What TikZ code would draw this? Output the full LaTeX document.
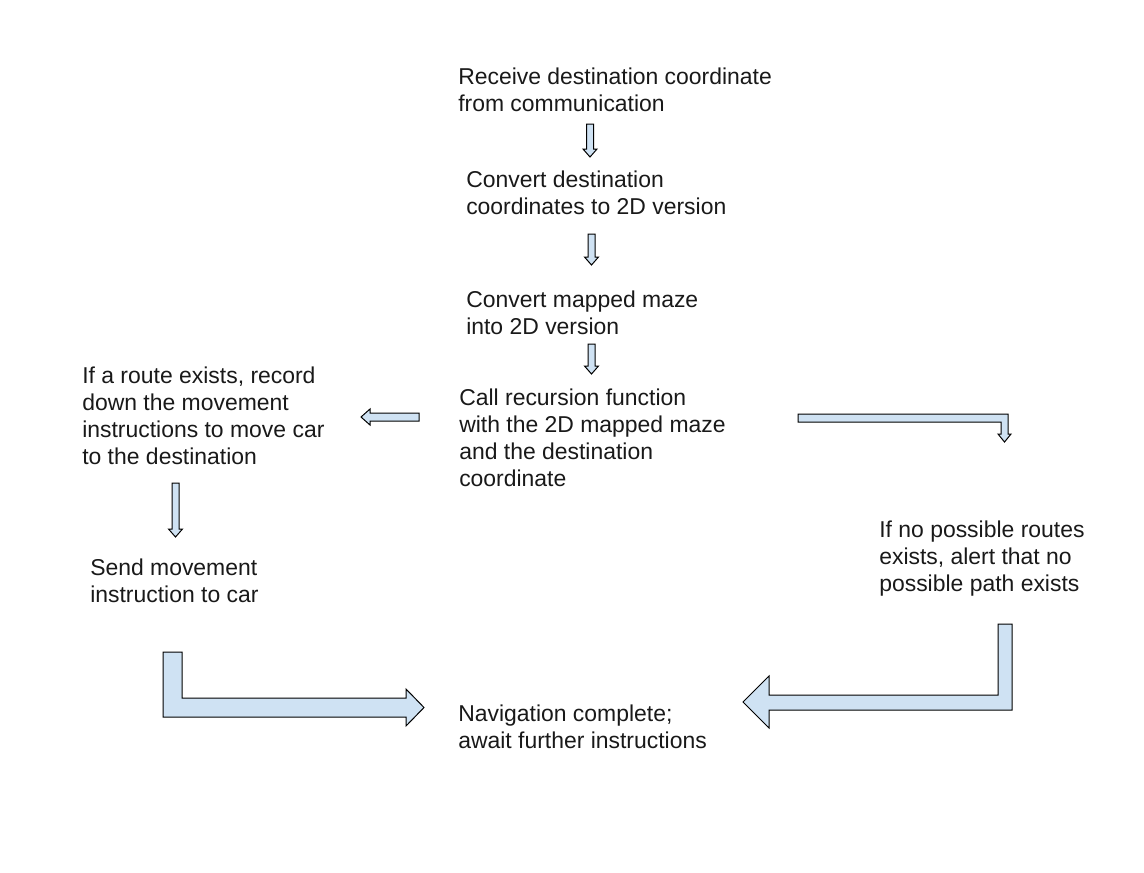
\documentclass[tikz,border=0pt]{standalone}
\usepackage{fontspec}
\setmainfont{Liberation Sans}
\usepackage{xcolor}
\usepackage{tikz}
\usetikzlibrary{positioning}
\definecolor{arrowfill}{RGB}{207,226,243}
\tikzstyle{flowtext}=[inner sep=0pt, anchor=north west, align=left, text=black!90,
        font=\fontsize{17.2pt}{20.25pt}\selectfont]
\tikzstyle{blockarrow}=[draw=black, fill=arrowfill, line width=0.75pt, line join=miter]
% small straight block arrow pointing down: x, top, tip
\newcommand{\downblock}[3]{%
  \draw[blockarrow] (#1-3.5,#2) -- (#1+3.5,#2) -- (#1+3.5,#3-8) -- (#1+7,#3-8)
    -- (#1,#3) -- (#1-7,#3-8) -- (#1-3.5,#3-8) -- cycle;}

\begin{document}
\begin{tikzpicture}[x=0.75pt, y=-0.75pt]
        \useasboundingbox (0,0) rectangle (1144,872);
        \node (receive) [flowtext] at (458,68)
        {Receive destination coordinate\\from communication};
        \node (convdest) [flowtext] at (466,171)
        {Convert destination\\coordinates to 2D version};
        \node (convmaze) [flowtext] at (466,291)
        {Convert mapped maze\\into 2D version};
        \node (recursion) [flowtext] at (459,389)
        {Call recursion function\\with the 2D mapped maze\\and the destination\\coordinate};
        \node (route) [flowtext] at (82,367)
        {If a route exists, record\\down the movement\\instructions to move car\\to the destination};
        \node (send) [flowtext] at (90,558.5)
        {Send movement\\instruction to car};
        \node (noroute) [flowtext] at (879,521)
        {If no possible routes\\exists, alert that no\\possible path exists};
        \node (done) [flowtext] at (458,704.5)
        {Navigation complete;\\await further instructions};
        % arrows
        \downblock{590}{124}{157}
        \downblock{591.5}{234}{265}
        \downblock{591.5}{344}{374}
        \downblock{175.5}{483}{537}
        \draw[blockarrow] (419,413) -- (419,421) -- (370,421) -- (370,425) -- (361,417)
          -- (370,409) -- (370,413) -- cycle;
        \draw[blockarrow] (798,414) -- (1008,414) -- (1008,434) -- (1011,434) -- (1004.5,442)
          -- (998,434) -- (1001,434) -- (1001,422) -- (798,422) -- cycle;
        \draw[blockarrow] (163,652) -- (182,652) -- (182,698) -- (406,698) -- (406,689)
          -- (424,707.5) -- (406,726) -- (406,717) -- (163,717) -- cycle;
        \draw[blockarrow] (998,624) -- (1012,624) -- (1012,710) -- (769,710) -- (769,728)
          -- (743,702) -- (769,676) -- (769,695) -- (998,695) -- cycle;
\end{tikzpicture}
\end{document}
